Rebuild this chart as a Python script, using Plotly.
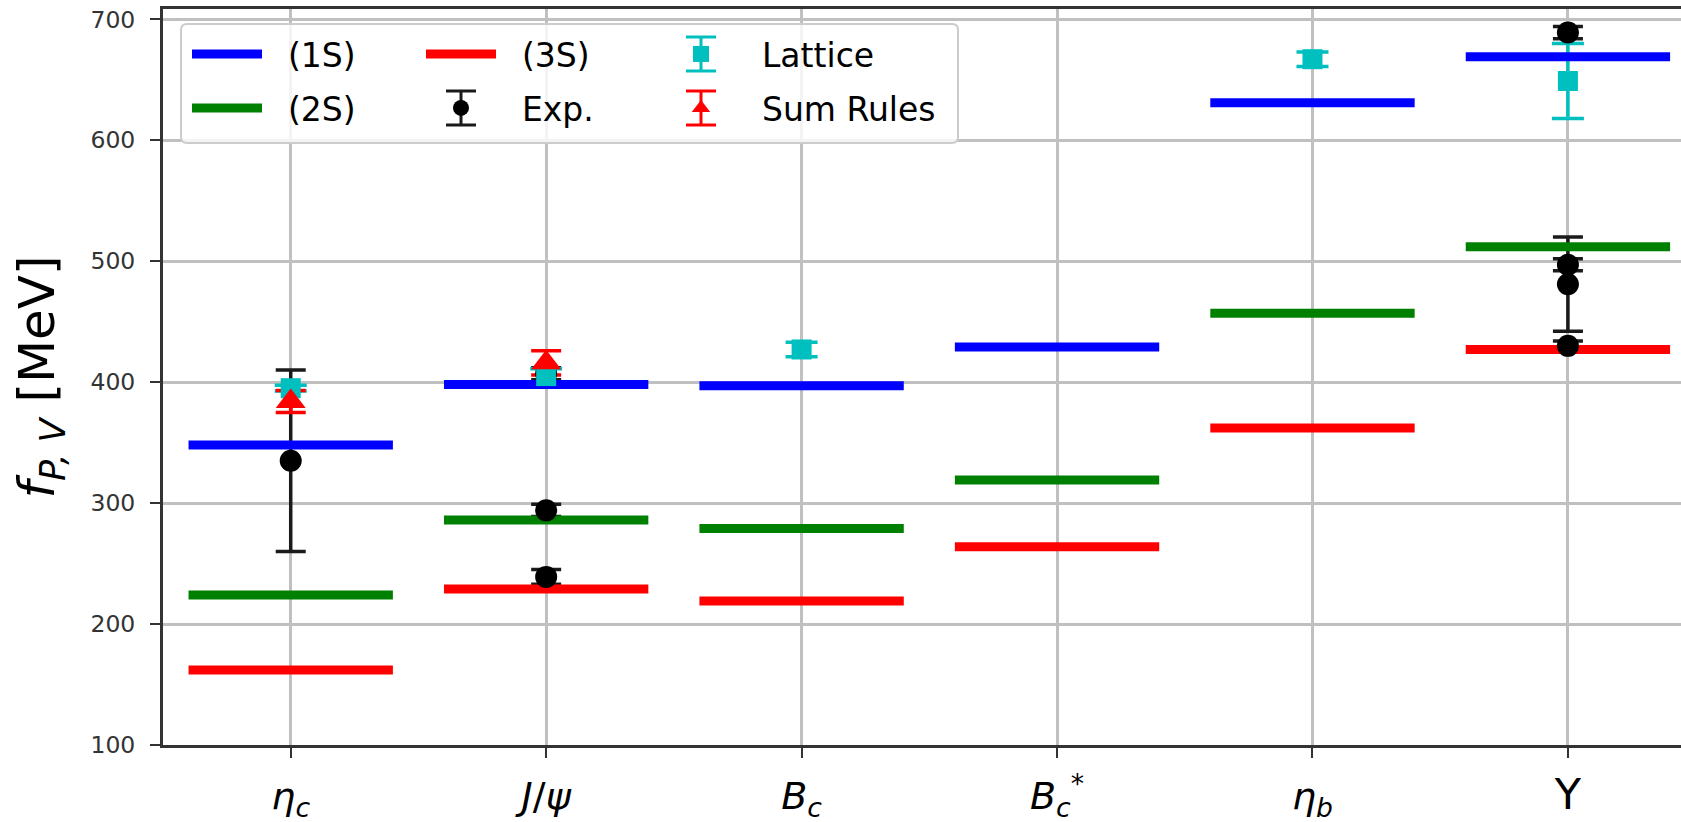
import plotly.graph_objects as go

# Mesons on the x axis (index = category position)
mesons = ["eta_c", "J/psi", "B_c", "B_c*", "eta_b", "Upsilon"]
tick_labels = [
    "<i>η</i><sub><i>c</i></sub>",
    "<i>J</i>/<i>ψ</i>",
    "<i>B</i><sub><i>c</i></sub>",
    "<i>B</i><sub><i>c</i></sub><sup>*</sup>",
    "<i>η</i><sub><i>b</i></sub>",
    "<span style='font-size:43px'>Υ</span>",
]

# Model decay constants per radial excitation [MeV]
f_1S = [348, 398, 397, 429, 631, 669]
f_2S = [224, 286, 279, 319, 457, 512]
f_3S = [162, 229, 219, 264, 362, 427]

# Experimental values
exp_pos = [0, 1, 1, 1, 5, 5, 5, 5]
exp_val = [335, 407, 294, 239, 689, 497, 481, 430]
exp_err = [75, 5, 5, 6, 5, 5, 39, 4]

# Lattice QCD values
lat_pos = [0, 1, 2, 4, 5]
lat_val = [395, 405, 427, 667, 649]
lat_err = [2.4, 6, 6, 6, 31]

# QCD sum rules
sr_pos = [0, 1]
sr_val = [384, 416]
sr_err = [9, 10]

HALF = 0.4  # half-length of the level bars, in category units

W, H = 1681, 822
ML, MT, MB = 163, 9, 77
PW = W - ML
PH = H - MT - MB
CAT_PX = 255.44  # pixel distance between neighbouring categories

EXP_C, LAT_C, SR_C = "#1a1a1a", "#00BFBF", "#FF0000"


def px_x(px):
    return (px - ML) / PW


def px_y(py):
    return (H - MB - py) / PH


def level_xy(values):
    xs, ys = [], []
    for i, v in enumerate(values):
        xs += [i - HALF, i + HALF, None]
        ys += [v, v, None]
    return xs, ys


fig = go.Figure()

# error bars first so the level bars sit on top of them
for pos, val, err, col, cap in [
    (exp_pos, exp_val, exp_err, EXP_C, 15),
    (lat_pos, lat_val, lat_err, LAT_C, 16),
    (sr_pos, sr_val, sr_err, SR_C, 15),
]:
    fig.add_trace(go.Scatter(
        x=pos, y=val, mode="markers",
        marker=dict(size=2, color="rgba(0,0,0,0)"),
        error_y=dict(type="data", array=err, color=col, thickness=3.5, width=cap),
        showlegend=False, hoverinfo="skip",
    ))

NB = "\u00a0\u00a0"
levels = [(NB + "(1S)", f_1S, "#0000FF", "legend"),
          (NB + "(2S)", f_2S, "#008000", "legend2"),
          (NB + "(3S)", f_3S, "#FF0000", "legend3")]
for name, vals, col, lg in levels:
    xs, ys = level_xy(vals)
    fig.add_trace(go.Scatter(
        x=xs, y=ys, mode="lines", name=name,
        line=dict(color=col, width=9),
        legend=lg,
    ))

fig.add_trace(go.Scatter(
    x=exp_pos, y=exp_val, mode="markers", name=NB + "Exp.",
    marker=dict(symbol="circle", size=22, color="black"),
    legend="legend4",
))
fig.add_trace(go.Scatter(
    x=lat_pos, y=lat_val, mode="markers", name=NB + "Lattice",
    marker=dict(symbol="square", size=20, color=LAT_C),
    legend="legend5",
))
fig.add_trace(go.Scatter(
    x=sr_pos, y=sr_val, mode="markers", name=NB + "Sum Rules",
    marker=dict(symbol="triangle-up", size=26, color=SR_C),
    legend="legend6",
))

# legend frame
fx0, fx1, fy0, fy1, r = 181, 958, 24, 143, 6
path = (f"M {px_x(fx0 + r)} {px_y(fy0)} L {px_x(fx1 - r)} {px_y(fy0)} "
        f"Q {px_x(fx1)} {px_y(fy0)} {px_x(fx1)} {px_y(fy0 + r)} "
        f"L {px_x(fx1)} {px_y(fy1 - r)} Q {px_x(fx1)} {px_y(fy1)} {px_x(fx1 - r)} {px_y(fy1)} "
        f"L {px_x(fx0 + r)} {px_y(fy1)} Q {px_x(fx0)} {px_y(fy1)} {px_x(fx0)} {px_y(fy1 - r)} "
        f"L {px_x(fx0)} {px_y(fy0 + r)} Q {px_x(fx0)} {px_y(fy0)} {px_x(fx0 + r)} {px_y(fy0)} Z")
fig.add_shape(type="path", path=path, xref="paper", yref="paper",
              fillcolor="rgba(255,255,255,0.8)",
              line=dict(color="#cccccc", width=2), layer="above")

leg_font = dict(family="DejaVu Sans", size=33, color="black")
slots = {
    "legend": (187, 54),
    "legend2": (187, 108),
    "legend3": (421, 54),
    "legend4": (421, 108),
    "legend5": (661, 54),
    "legend6": (661, 108),
}
legend_layout = {}
for key, (lx, ly) in slots.items():
    legend_layout[key] = dict(
        x=px_x(lx), y=px_y(ly), xanchor="left", yanchor="middle",
        xref="paper", yref="paper",
        bgcolor="rgba(0,0,0,0)", borderwidth=0,
        font=leg_font, itemwidth=70,
    )

# error-bar glyphs behind the marker symbols of the legend entries
for key, col in [("legend4", EXP_C), ("legend5", LAT_C), ("legend6", SR_C)]:
    lx, ly = slots[key]
    cx = lx + 5 + 35
    for x0, y0, x1, y1 in [(cx, ly - 17, cx, ly + 17),
                           (cx - 15, ly - 17, cx + 15, ly - 17),
                           (cx - 15, ly + 17, cx + 15, ly + 17)]:
        fig.add_shape(type="line", xref="paper", yref="paper",
                      x0=px_x(x0), y0=px_y(y0), x1=px_x(x1), y1=px_y(y1),
                      line=dict(color=col, width=3), layer="above")

fig.update_layout(
    width=W, height=H,
    margin=dict(l=ML, r=0, t=MT, b=MB, pad=0),
    paper_bgcolor="white", plot_bgcolor="white",
    font=dict(family="DejaVu Sans", color="#222222"),
    showlegend=True,
    **legend_layout,
)

fig.update_xaxes(
    range=[-0.5, -0.5 + PW / CAT_PX],
    tickmode="array", tickvals=list(range(len(mesons))), ticktext=tick_labels,
    tickfont=dict(family="DejaVu Sans", size=38, color="black"),
    ticks="outside", ticklen=10, tickwidth=2, tickcolor="#333333",
    ticklabelstandoff=5,
    showline=True, linecolor="#333333", linewidth=3, mirror=True,
    showgrid=True, gridcolor="#c0c0c0", gridwidth=2.5,
    zeroline=False,
)
fig.update_yaxes(
    range=[100, 708.5],
    tickmode="array", tickvals=[100, 200, 300, 400, 500, 600, 700],
    tickfont=dict(family="DejaVu Sans", size=23.5, color="#333333"),
    ticks="outside", ticklen=10, tickwidth=2, tickcolor="#333333",
    ticklabelstandoff=10,
    showline=True, linecolor="#333333", linewidth=3, mirror=False,
    showgrid=True, gridcolor="#c0c0c0", gridwidth=2.5,
    zeroline=False,
    title=dict(text="<i>f</i><sub><i>P, V</i></sub> [MeV]",
               font=dict(family="DejaVu Sans", size=50, color="black"),
               standoff=20),
)

fig.write_html("out.html")
